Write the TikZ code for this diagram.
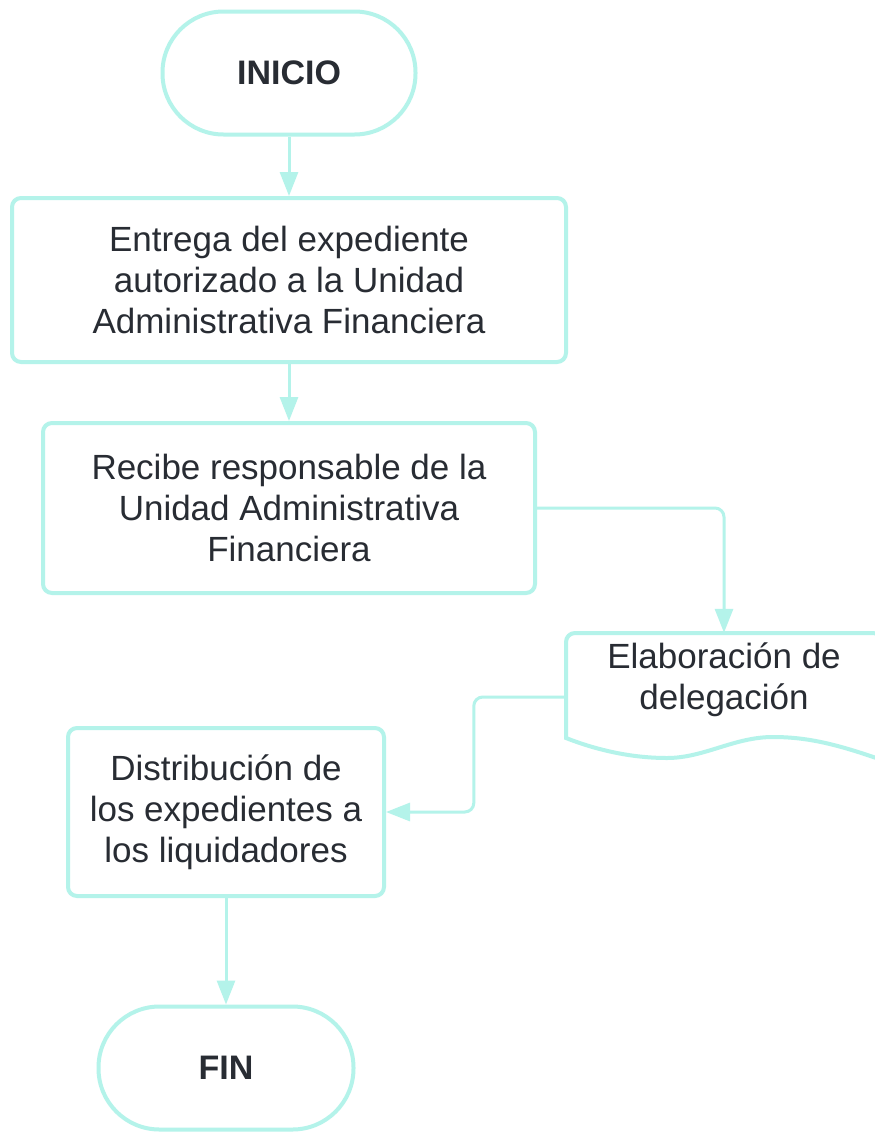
\documentclass[tikz,border=0pt]{standalone}
\usepackage{fontspec}
\setmainfont{Liberation Sans}
\usetikzlibrary{arrows.meta}
\definecolor{lineaqua}{RGB}{180,243,234}
\definecolor{inktext}{RGB}{40,44,51}
\tikzset{
	box/.style={draw=lineaqua, line width=4pt, fill=white, rounded corners=9pt,
		align=center, text=inktext, font=\fontsize{35}{41}\selectfont},
	terminal/.style={box, rounded corners=61pt, minimum width=253pt, minimum height=123pt,
		font=\fontsize{34}{41}\selectfont\bfseries},
	flow/.style={draw=lineaqua, line width=3pt, -{Triangle[length=24pt, width=18pt]}}
}
\begin{document}
	\begin{tikzpicture}[x=1pt, y=-1pt]
		\useasboundingbox (0,0) rectangle (875,1133);
		\clip (0,0) rectangle (875,1133);
		\fill[white] (0,0) rectangle (875,1133);
		\node[terminal] (inicio) at (289,73) {INICIO};
		\node[box, minimum width=554pt, minimum height=164pt] (entrega) at (289,280)
			{Entrega del expediente\\autorizado a la Unidad\\Administrativa Financiera};
		\node[box, minimum width=492pt, minimum height=170pt] (recibe) at (289,508)
			{Recibe responsable de la\\Unidad Administrativa\\Financiera};
		\node[minimum width=316pt, minimum height=128pt, inner sep=0pt] (doc) at (724,697) {};
		\begin{scope}[shift={(doc.center)}]
			\draw[draw=lineaqua, line width=4pt, fill=white]
				(-158,41) [rounded corners=9pt] -- (-158,-64) -- (158,-64) [sharp corners] -- (158,63)
				.. controls (115,48) and (85,40) .. (49,40)
				.. controls (10,40) and (-20,61) .. (-57,61)
				.. controls (-95,61) and (-130,52) .. (-158,41) -- cycle;
		\end{scope}
		\node[align=center, text=inktext, font=\fontsize{35}{41}\selectfont] (doctext) at (724,680)
			{Elaboración de\\delegación};
		\node[box, minimum width=316pt, minimum height=168pt] (distribucion) at (226,812)
			{Distribución de\\los expedientes a\\los liquidadores};
		\node[terminal, minimum width=255pt] (fin) at (226,1068) {FIN};
		\draw[flow] (inicio) -- (entrega);
		\draw[flow] (entrega) -- (recibe);
		\draw[flow, rounded corners=9pt] (recibe.east) -| (doc.north);
		\draw[flow, rounded corners=9pt] (doc.west) -- ++(-92,0) |- (distribucion.east);
		\draw[flow] (distribucion) -- (fin);
	\end{tikzpicture}
\end{document}
